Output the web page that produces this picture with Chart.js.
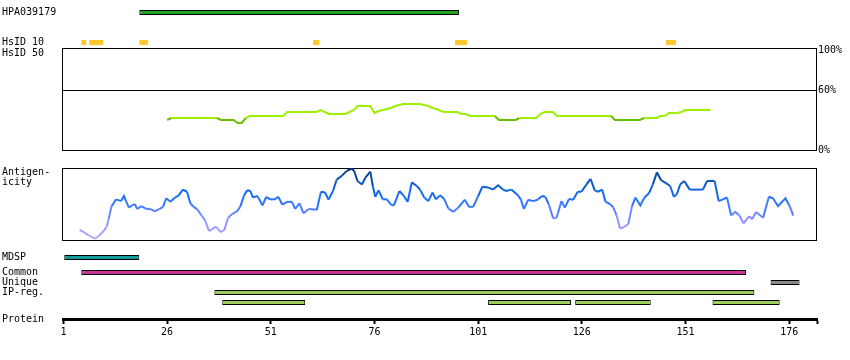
<!DOCTYPE html>
<html>
<head>
<meta charset="utf-8">
<script src="https://cdn.jsdelivr.net/npm/chart.js@4/dist/chart.umd.min.js"></script>
<style>
html, body { margin: 0; padding: 0; background: #fff; }
#wrap { position: relative; width: 850px; height: 360px; overflow: hidden; background: #fff; }
#wrap canvas { position: absolute; left: 0; }
</style>
</head>
<body>
<div id="wrap">
  <canvas id="cHpa"   width="850" height="25"  style="top:0px"></canvas>
  <canvas id="cId10"  width="850" height="25"  style="top:30px"></canvas>
  <canvas id="cId50"  width="850" height="124" style="top:38px"></canvas>
  <canvas id="cAnti"  width="850" height="92"  style="top:158px"></canvas>
  <canvas id="cMdsp"  width="850" height="15"  style="top:250px"></canvas>
  <canvas id="cFeat"  width="850" height="60"  style="top:260px"></canvas>
  <canvas id="cProt"  width="850" height="61"  style="top:289px"></canvas>
</div>
<script>
// ---------------- data (residue positions / values) ----------------
const hpaRanges    = [[19.3, 96.4]];
const hsid10Ranges = [[5.3, 6.5], [7.2, 10.6], [19.3, 21.4], [61.2, 62.7], [95.4, 98.3], [146.3, 148.7]];

const hsid50Start  = 26;
const hsid50Values = [30,
  32,32,32,32,32,32,32,32,32,32,32,32,
  30,30,30,30, 27,27, 32,
  34,34,34,34,34,34,34,34,34,
  38,38,38,38,38,38,38,38, 40,38,
  36,36,36,36,36, 38,40, 44,44,44,44,
  37,39,40,41,42,44,45, 46,46,46,46,46,
  45,44,42,41,39, 38,38,38,38, 36,36,
  34,34,34,34,34,34,34, 30,30,30,30,30,
  32,32,32,32,32, 36,38,38,38,
  34,34,34,34,34,34,34,34,34,34,34,34,34,34,
  30,30,30,30,30,30,30, 32,32,32,32, 34,34, 37,37,37, 38,
  40,40,40,40,40,40,40];
const hsid50Ticks = [0, 60, 100];

const antigenPos = [4.9,5.9,7.1,8.6,9.5,10.7,11.5,11.9,12.6,13.2,
  13.7,14.4,14.9,15.6,16.1,16.8,17.6,18.2,18.8,19.8,
  20.8,22.0,23.0,24.1,25.0,25.8,26.8,27.9,28.8,29.8,
  30.8,31.6,32.4,33.2,34.3,35.1,36.1,36.9,37.8,38.9,
  39.8,40.7,41.7,42.9,43.7,44.5,45.3,46.1,46.7,47.6,
  48.0,49.0,49.9,50.8,52.0,52.8,53.8,54.9,56.1,56.9,
  57.9,58.9,60.1,62.1,63.1,64.1,64.9,66.0,66.9,68.1,
  69.3,70.5,71.1,71.9,73.0,73.8,75.0,75.6,76.2,77.0,
  78.0,79.0,80.0,80.7,82.0,83.0,84.0,85.0,86.2,87.0,
  88.0,89.0,90.0,90.8,91.8,92.8,93.8,95.0,96.2,97.8,
  98.8,99.8,101.0,102.0,103.4,104.6,105.8,107.0,107.8,109.0,
  110.6,111.3,112.0,113.1,114.3,115.5,116.4,117.2,118.0,119.1,
  119.9,121.1,121.9,122.9,123.9,125.0,125.9,127.1,128.1,129.1,
  129.9,130.9,131.7,132.8,133.6,134.4,135.2,136.2,137.2,138.1,
  138.9,140.1,141.1,142.2,143.1,144.1,145.1,146.3,147.3,148.2,
  148.9,149.7,150.7,152.0,155.2,156.2,158.0,159.0,160.0,161.0,
  162.0,163.0,164.0,165.0,166.3,167.1,168.0,169.7,171.1,172.1,
  173.3,175.1,176.1,177.0];
const antigenVal = [0.14,0.11,0.065,0.02,0.055,0.125,0.19,0.29,0.47,0.52,
  0.565,0.55,0.54,0.61,0.54,0.45,0.48,0.50,0.43,0.47,
  0.435,0.43,0.40,0.43,0.46,0.58,0.53,0.59,0.62,0.70,
  0.67,0.51,0.46,0.43,0.34,0.28,0.125,0.15,0.185,0.11,
  0.14,0.31,0.36,0.40,0.47,0.61,0.69,0.68,0.59,0.61,
  0.59,0.48,0.60,0.565,0.565,0.60,0.49,0.53,0.53,0.43,
  0.51,0.37,0.43,0.42,0.67,0.66,0.56,0.68,0.84,0.89,
  0.96,0.99,0.96,0.82,0.77,0.865,0.95,0.75,0.60,0.69,
  0.565,0.565,0.49,0.48,0.68,0.62,0.53,0.80,0.75,0.70,
  0.59,0.54,0.66,0.565,0.62,0.57,0.44,0.39,0.45,0.56,
  0.46,0.46,0.61,0.74,0.73,0.70,0.76,0.70,0.68,0.70,
  0.62,0.565,0.43,0.56,0.54,0.565,0.61,0.60,0.50,0.30,
  0.31,0.54,0.45,0.57,0.56,0.67,0.67,0.77,0.85,0.69,
  0.67,0.70,0.53,0.50,0.45,0.34,0.16,0.18,0.22,0.47,
  0.59,0.48,0.59,0.65,0.77,0.94,0.83,0.79,0.75,0.60,
  0.635,0.77,0.82,0.70,0.70,0.82,0.82,0.54,0.565,0.59,
  0.34,0.39,0.34,0.23,0.33,0.29,0.39,0.31,0.60,0.58,
  0.47,0.58,0.47,0.34];

const mdspRanges   = [[1.2, 19.3]];
const commonRanges = [[5.3, 165.6]];
const uniqueRanges = [[171.5, 178.5]];
const ipRegRow1    = [[37.4, 167.6]];
const ipRegRow2    = [[39.3, 59.3], [103.4, 123.4], [124.4, 142.6], [157.5, 173.7]];
const featureRows  = ['Common', 'Unique', 'IP-reg.', 'IP-reg. (2)'];
const featureText  = ['Common', 'Unique', 'IP-reg.', ''];
const proteinTicks = [1, 26, 51, 76, 101, 126, 151, 176];

// ---------------- layout / style ----------------
const X_MIN = 0.9, X_MAX = 182.7;
const LEFT_W = 61, PAD_L = 2, RIGHT_W = 33;

Chart.defaults.font.family = "'DejaVu Sans Mono', monospace";
Chart.defaults.font.size = 10;
Chart.defaults.font.lineHeight = 1;
Chart.defaults.color = '#000';
Chart.defaults.animation = false;
Chart.defaults.plugins.legend.display = false;
Chart.defaults.plugins.tooltip.enabled = false;

const boxPlugin = {
  id: 'box',
  beforeDatasetsDraw(chart) {
    const a = chart.chartArea, ctx = chart.ctx;
    ctx.save();
    ctx.strokeStyle = '#000';
    ctx.lineWidth = 1;
    ctx.strokeRect(a.left - 0.5, a.top + 0.5, a.right - a.left, a.bottom - a.top);
    ctx.restore();
  }
};

function baseX() { return { type: 'linear', min: X_MIN, max: X_MAX, display: false }; }

function catAxis(labels, text) {
  return {
    type: 'category', labels: labels, offset: true, position: 'left',
    grid: { display: false }, border: { display: false },
    ticks: { crossAlign: 'far', padding: 0, autoSkip: false, callback: (v, i) => text[i] },
    afterFit(s) { s.width = LEFT_W; }
  };
}

function rangeBars(ranges, row, fill, border) {
  return {
    data: ranges.map(r => ({ x: r, y: row })),
    backgroundColor: fill,
    borderColor: border || fill,
    borderWidth: border ? 1 : 0,
    borderSkipped: false,
    barThickness: 5,
    grouped: false,
    inflateAmount: 0
  };
}

function barTrack(id, labels, text, datasets, padTop, padBottom) {
  return new Chart(document.getElementById(id), {
    type: 'bar',
    data: { datasets: datasets },
    options: {
      responsive: false, indexAxis: 'y',
      layout: { padding: { left: PAD_L, right: RIGHT_W, top: padTop, bottom: padBottom } },
      scales: { x: baseX(), y: catAxis(labels, text) }
    }
  });
}

// colour helpers
function hex(c) { return [parseInt(c.slice(1,3),16), parseInt(c.slice(3,5),16), parseInt(c.slice(5,7),16)]; }
function ramp(stops, v) {
  if (v <= stops[0][0]) return stops[0][1];
  for (let i = 1; i < stops.length; i++) {
    if (v <= stops[i][0]) {
      const t = (v - stops[i-1][0]) / (stops[i][0] - stops[i-1][0]);
      const a = hex(stops[i-1][1]), b = hex(stops[i][1]);
      return 'rgb(' + a.map((x, k) => Math.round(x + (b[k] - x) * t)).join(',') + ')';
    }
  }
  return stops[stops.length - 1][1];
}
const antiStops = [[0, '#b8acf6'], [0.3, '#8c90ff'], [0.45, '#447cff'], [0.62, '#166cf2'], [0.8, '#0b58c4'], [1, '#0a3470']];
const idColor = v => v < 31 ? '#66c000' : '#9cf000';

// ---------------- charts ----------------
barTrack('cHpa', ['HPA039179'], ['HPA039179'],
  [rangeBars(hpaRanges, 'HPA039179', '#22a322', '#000')], 0, 0);

barTrack('cId10', ['HsID 10'], ['HsID 10'],
  [rangeBars(hsid10Ranges, 'HsID 10', '#ffc82a')], 0, 0);

new Chart(document.getElementById('cId50'), {
  type: 'line',
  data: { datasets: [{
    data: hsid50Values.map((v, i) => ({ x: hsid50Start + i, y: v })),
    borderColor: '#9cf000', borderWidth: 2, pointRadius: 0, tension: 0,
    segment: { borderColor: c => idColor(Math.min(c.p0.parsed.y, c.p1.parsed.y)) }
  }] },
  options: {
    responsive: false,
    layout: { padding: { left: PAD_L, right: 0, top: 10, bottom: 12 } },
    scales: {
      x: baseX(),
      y: {
        type: 'linear', min: 0, max: 102, position: 'left',
        grid: { display: false }, border: { display: false },
        afterBuildTicks(s) { s.ticks = [{ value: 102 }]; },
        ticks: { crossAlign: 'far', padding: 0, labelOffset: 5, callback: () => 'HsID 50' },
        afterFit(s) { s.width = LEFT_W; }
      },
      yr: {
        type: 'linear', min: 0, max: 102, position: 'right',
        border: { display: false },
        grid: { drawTicks: false, lineWidth: 1, color: c => (c.tick && c.tick.value === 60) ? '#000' : 'rgba(0,0,0,0)' },
        afterBuildTicks(s) { s.ticks = hsid50Ticks.map(v => ({ value: v })); },
        ticks: { padding: 1, callback: v => v + '%' },
        afterFit(s) { s.width = RIGHT_W; }
      }
    }
  },
  plugins: [boxPlugin]
});

new Chart(document.getElementById('cAnti'), {
  type: 'line',
  data: { datasets: [{
    data: antigenPos.map((p, i) => ({ x: p, y: antigenVal[i] })),
    borderColor: '#166cf2', borderWidth: 2, pointRadius: 0, tension: 0,
    segment: { borderColor: c => ramp(antiStops, (c.p0.parsed.y + c.p1.parsed.y) / 2) }
  }] },
  options: {
    responsive: false,
    layout: { padding: { left: PAD_L, right: RIGHT_W, top: 10, bottom: 10 } },
    scales: {
      x: baseX(),
      y: {
        type: 'linear', min: 0, max: 1, position: 'left',
        grid: { display: false }, border: { display: false },
        afterBuildTicks(s) { s.ticks = [{ value: 1 }]; },
        ticks: { crossAlign: 'far', padding: 0, labelOffset: 9.5, callback: () => ['Antigen-', 'icity'] },
        afterFit(s) { s.width = LEFT_W; }
      }
    }
  },
  plugins: [boxPlugin]
});

barTrack('cMdsp', ['MDSP'], ['MDSP'],
  [rangeBars(mdspRanges, 'MDSP', '#139a9a', '#000')], 0, 0);

barTrack('cFeat', featureRows, featureText, [
  rangeBars(commonRanges, featureRows[0], '#cc3399', '#000'),
  rangeBars(uniqueRanges, featureRows[1], '#888888', '#000'),
  rangeBars(ipRegRow1, featureRows[2], '#9ccc5a', '#000'),
  rangeBars(ipRegRow2, featureRows[3], '#9ccc5a', '#000')
], 7.5, 12.5);

new Chart(document.getElementById('cProt'), {
  type: 'line',
  data: { datasets: [] },
  options: {
    responsive: false,
    layout: { padding: { left: PAD_L, right: RIGHT_W, top: 0, bottom: 0 } },
    scales: {
      x: {
        type: 'linear', min: X_MIN, max: X_MAX, position: 'bottom',
        border: { display: true, width: 3, color: '#000' },
        grid: { display: true, drawOnChartArea: false, drawTicks: true, tickLength: 5, tickWidth: 2, tickColor: '#000' },
        afterBuildTicks(s) { s.ticks = proteinTicks.map(v => ({ value: v })).concat([{ value: X_MAX }]); },
        ticks: { autoSkip: false, maxRotation: 0, padding: 3,
                 callback: (v, i) => i < proteinTicks.length ? String(proteinTicks[i]) : '' },
        afterFit(s) { s.height = 31; }
      },
      y: {
        type: 'linear', min: 0, max: 1, position: 'left',
        grid: { display: false }, border: { display: false },
        afterBuildTicks(s) { s.ticks = [{ value: 0 }]; },
        ticks: { crossAlign: 'far', padding: 0, callback: () => 'Protein' },
        afterFit(s) { s.width = LEFT_W; }
      }
    }
  }
});
</script>
</body>
</html>
